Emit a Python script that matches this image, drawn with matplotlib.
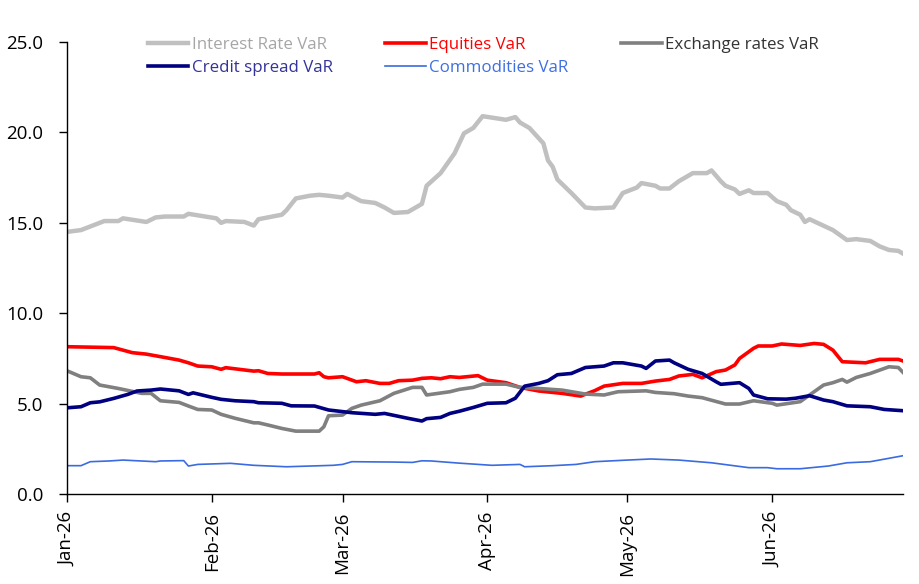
import pandas as pd
import matplotlib
matplotlib.use("Agg")
import matplotlib.pyplot as plt
import matplotlib.dates as mdates

# VaR by risk factor
ir_dates = ["2026-01-01", "2026-01-04", "2026-01-06", "2026-01-09", "2026-01-12", "2026-01-13",
            "2026-01-18", "2026-01-20", "2026-01-22", "2026-01-26", "2026-01-27", "2026-02-02",
            "2026-02-03", "2026-02-04", "2026-02-08", "2026-02-10", "2026-02-11", "2026-02-16",
            "2026-02-17", "2026-02-19", "2026-02-22", "2026-02-24", "2026-02-26", "2026-03-01",
            "2026-03-02", "2026-03-05", "2026-03-08", "2026-03-10", "2026-03-12", "2026-03-15",
            "2026-03-18", "2026-03-19", "2026-03-22", "2026-03-25", "2026-03-27", "2026-03-29",
            "2026-03-31", "2026-04-05", "2026-04-07", "2026-04-08", "2026-04-10", "2026-04-13",
            "2026-04-14", "2026-04-15", "2026-04-16", "2026-04-19", "2026-04-22", "2026-04-24",
            "2026-04-28", "2026-04-30", "2026-05-03", "2026-05-04", "2026-05-07", "2026-05-08",
            "2026-05-10", "2026-05-12", "2026-05-15", "2026-05-18", "2026-05-19", "2026-05-21",
            "2026-05-22", "2026-05-24", "2026-05-25", "2026-05-27", "2026-05-28", "2026-05-31",
            "2026-06-02", "2026-06-04", "2026-06-05", "2026-06-07", "2026-06-08", "2026-06-09",
            "2026-06-14", "2026-06-17", "2026-06-19", "2026-06-22", "2026-06-24", "2026-06-26",
            "2026-06-28", "2026-06-29"]
ir_var = [14.5, 14.6, 14.8, 15.1, 15.1, 15.25,
          15.05, 15.3, 15.35, 15.35, 15.5, 15.25,
          15.0, 15.1, 15.05, 14.85, 15.2, 15.45,
          15.7, 16.35, 16.5, 16.55, 16.5, 16.4,
          16.6, 16.2, 16.1, 15.85, 15.55, 15.6,
          16.05, 17.05, 17.75, 18.85, 19.95, 20.25,
          20.9, 20.7, 20.85, 20.55, 20.25, 19.4,
          18.45, 18.1, 17.4, 16.65, 15.85, 15.8,
          15.85, 16.65, 16.95, 17.2, 17.05, 16.9,
          16.9, 17.3, 17.75, 17.75, 17.9, 17.3,
          17.05, 16.85, 16.6, 16.8, 16.65, 16.65,
          16.2, 16.0, 15.7, 15.45, 15.05, 15.2,
          14.6, 14.05, 14.1, 14.0, 13.7, 13.5,
          13.45, 13.3]

eq_dates = ["2026-01-01", "2026-01-11", "2026-01-13", "2026-01-15", "2026-01-18", "2026-01-21",
            "2026-01-25", "2026-01-27", "2026-01-29", "2026-02-01", "2026-02-03", "2026-02-04",
            "2026-02-10", "2026-02-11", "2026-02-13", "2026-02-16", "2026-02-23", "2026-02-24",
            "2026-02-25", "2026-02-26", "2026-03-01", "2026-03-04", "2026-03-06", "2026-03-09",
            "2026-03-11", "2026-03-13", "2026-03-16", "2026-03-18", "2026-03-20", "2026-03-22",
            "2026-03-24", "2026-03-26", "2026-03-30", "2026-04-01", "2026-04-05", "2026-04-08",
            "2026-04-12", "2026-04-17", "2026-04-21", "2026-04-24", "2026-04-26", "2026-04-30",
            "2026-05-04", "2026-05-07", "2026-05-10", "2026-05-12", "2026-05-15", "2026-05-17",
            "2026-05-20", "2026-05-22", "2026-05-24", "2026-05-25", "2026-05-28", "2026-05-29",
            "2026-06-01", "2026-06-03", "2026-06-07", "2026-06-10", "2026-06-12", "2026-06-14",
            "2026-06-16", "2026-06-21", "2026-06-24", "2026-06-28", "2026-06-29"]
eq_var = [8.15, 8.1, 7.96, 7.82, 7.74, 7.6,
          7.41, 7.26, 7.08, 7.04, 6.9, 6.99,
          6.8, 6.82, 6.67, 6.64, 6.64, 6.71,
          6.49, 6.43, 6.49, 6.21, 6.27, 6.12,
          6.12, 6.27, 6.3, 6.4, 6.43, 6.38,
          6.49, 6.45, 6.55, 6.3, 6.16, 5.9,
          5.7, 5.57, 5.42, 5.72, 5.97, 6.12,
          6.12, 6.25, 6.34, 6.53, 6.62, 6.43,
          6.77, 6.86, 7.14, 7.5, 8.06, 8.19,
          8.19, 8.3, 8.22, 8.33, 8.28, 7.96,
          7.32, 7.26, 7.45, 7.45, 7.36]

fx_dates = ["2026-01-01", "2026-01-04", "2026-01-06", "2026-01-08", "2026-01-12", "2026-01-17",
            "2026-01-19", "2026-01-21", "2026-01-25", "2026-01-27", "2026-01-29", "2026-02-01",
            "2026-02-03", "2026-02-06", "2026-02-10", "2026-02-11", "2026-02-13", "2026-02-16",
            "2026-02-19", "2026-02-24", "2026-02-25", "2026-02-26", "2026-03-01", "2026-03-03",
            "2026-03-05", "2026-03-09", "2026-03-12", "2026-03-16", "2026-03-18", "2026-03-19",
            "2026-03-24", "2026-03-26", "2026-03-29", "2026-03-31", "2026-04-05", "2026-04-08",
            "2026-04-12", "2026-04-17", "2026-04-22", "2026-04-26", "2026-04-29", "2026-05-05",
            "2026-05-07", "2026-05-11", "2026-05-14", "2026-05-17", "2026-05-22", "2026-05-25",
            "2026-05-28", "2026-06-01", "2026-06-02", "2026-06-07", "2026-06-09", "2026-06-12",
            "2026-06-14", "2026-06-16", "2026-06-17", "2026-06-19", "2026-06-22", "2026-06-26",
            "2026-06-28", "2026-06-29"]
fx_var = [6.82, 6.49, 6.43, 6.03, 5.84, 5.57,
          5.57, 5.16, 5.07, 4.87, 4.68, 4.65,
          4.41, 4.19, 3.94, 3.94, 3.82, 3.63,
          3.48, 3.48, 3.72, 4.33, 4.37, 4.74,
          4.92, 5.16, 5.57, 5.9, 5.9, 5.48,
          5.66, 5.79, 5.9, 6.08, 6.08, 5.9,
          5.84, 5.75, 5.53, 5.48, 5.66, 5.71,
          5.62, 5.55, 5.42, 5.33, 4.98, 4.98,
          5.16, 5.02, 4.92, 5.11, 5.48, 6.03,
          6.16, 6.34, 6.19, 6.45, 6.67, 7.04,
          7.0, 6.73]

cs_dates = ["2026-01-01", "2026-01-04", "2026-01-06", "2026-01-08", "2026-01-11", "2026-01-14",
            "2026-01-16", "2026-01-19", "2026-01-21", "2026-01-25", "2026-01-27", "2026-01-28",
            "2026-02-01", "2026-02-03", "2026-02-06", "2026-02-10", "2026-02-11", "2026-02-16",
            "2026-02-18", "2026-02-23", "2026-02-26", "2026-03-03", "2026-03-08", "2026-03-10",
            "2026-03-15", "2026-03-18", "2026-03-19", "2026-03-22", "2026-03-24", "2026-03-26",
            "2026-03-29", "2026-04-01", "2026-04-05", "2026-04-07", "2026-04-09", "2026-04-12",
            "2026-04-14", "2026-04-16", "2026-04-19", "2026-04-22", "2026-04-26", "2026-04-28",
            "2026-04-30", "2026-05-04", "2026-05-05", "2026-05-07", "2026-05-10", "2026-05-11",
            "2026-05-14", "2026-05-17", "2026-05-20", "2026-05-21", "2026-05-25", "2026-05-27",
            "2026-05-28", "2026-05-31", "2026-06-04", "2026-06-06", "2026-06-09", "2026-06-12",
            "2026-06-14", "2026-06-17", "2026-06-22", "2026-06-25", "2026-06-29"]
cs_var = [4.77, 4.83, 5.05, 5.1, 5.29, 5.51,
          5.7, 5.75, 5.81, 5.71, 5.51, 5.6,
          5.35, 5.24, 5.16, 5.11, 5.05, 5.02,
          4.88, 4.87, 4.65, 4.5, 4.41, 4.46,
          4.19, 4.04, 4.17, 4.24, 4.46, 4.58,
          4.79, 5.02, 5.05, 5.3, 5.97, 6.12,
          6.27, 6.6, 6.67, 7.0, 7.08, 7.26,
          7.26, 7.08, 6.95, 7.36, 7.41, 7.26,
          6.9, 6.67, 6.21, 6.07, 6.16, 5.84,
          5.48, 5.27, 5.25, 5.3, 5.44, 5.2,
          5.11, 4.88, 4.83, 4.68, 4.61]

co_dates = ["2026-01-01", "2026-01-04", "2026-01-06", "2026-01-10", "2026-01-13", "2026-01-20",
            "2026-01-21", "2026-01-26", "2026-01-27", "2026-01-29", "2026-02-05", "2026-02-10",
            "2026-02-17", "2026-02-27", "2026-03-01", "2026-03-03", "2026-03-12", "2026-03-16",
            "2026-03-18", "2026-03-20", "2026-03-26", "2026-04-02", "2026-04-08", "2026-04-09",
            "2026-04-15", "2026-04-20", "2026-04-24", "2026-05-01", "2026-05-06", "2026-05-12",
            "2026-05-19", "2026-05-27", "2026-05-31", "2026-06-02", "2026-06-07", "2026-06-13",
            "2026-06-17", "2026-06-22", "2026-06-29"]
co_var = [1.57, 1.57, 1.79, 1.83, 1.88, 1.79,
          1.83, 1.85, 1.55, 1.64, 1.7, 1.59,
          1.51, 1.59, 1.64, 1.79, 1.77, 1.75,
          1.84, 1.83, 1.71, 1.59, 1.64, 1.51,
          1.57, 1.64, 1.79, 1.88, 1.94, 1.88,
          1.73, 1.46, 1.46, 1.4, 1.4, 1.55,
          1.73, 1.79, 2.12]

plt.rcParams["font.family"] = ["Open Sans", "DejaVu Sans"]

fig = plt.figure(figsize=(9.2, 5.84), dpi=100)
ax = fig.add_axes([0.0728, 0.154, 0.9087, 0.774])

l_ir, = ax.plot(pd.to_datetime(ir_dates), ir_var, color="#c0c0c0", lw=3.2, label="Interest Rate VaR")
l_eq, = ax.plot(pd.to_datetime(eq_dates), eq_var, color="#ff0000", lw=2.6, label="Equities VaR")
l_fx, = ax.plot(pd.to_datetime(fx_dates), fx_var, color="#808080", lw=2.6, label="Exchange rates VaR")
l_cs, = ax.plot(pd.to_datetime(cs_dates), cs_var, color="#000080", lw=2.6, label="Credit spread VaR")
l_co, = ax.plot(pd.to_datetime(co_dates), co_var, color="#3a6be0", lw=1.2, label="Commodities VaR")

ax.set_ylim(0, 25)
ax.set_yticks([0, 5, 10, 15, 20, 25])
ax.yaxis.set_major_formatter(matplotlib.ticker.FormatStrFormatter("%.1f"))
ax.set_xlim(pd.Timestamp("2026-01-01"), pd.Timestamp("2026-06-29"))
ax.xaxis.set_major_locator(mdates.MonthLocator())
ax.xaxis.set_major_formatter(mdates.DateFormatter("%b-%y"))
plt.setp(ax.get_xticklabels(), rotation=90)
ax.tick_params(labelsize=13.5, length=6, width=1, color="black", labelcolor="black")
ax.tick_params(axis="y", pad=11)
ax.tick_params(axis="x", pad=7)

for s in ["top", "right"]:
    ax.spines[s].set_visible(False)
for s in ["left", "bottom"]:
    ax.spines[s].set_linewidth(1)
    ax.spines[s].set_color("black")

leg = ax.legend(handles=[l_ir, l_cs, l_eq, l_co, l_fx], ncol=3, frameon=False,
                loc="upper left", bbox_to_anchor=(0.0885, 1.027), fontsize=12.2,
                handlelength=2.4, handletextpad=0.2, columnspacing=3.1,
                labelspacing=0.42, borderaxespad=0)
text_colors = ["#a6a6a6", "#333399", "#ff0000", "#3f6fe0", "#333333"]
for t, c in zip(leg.get_texts(), text_colors):
    t.set_color(c)

fig.savefig("out.png", dpi=100)
